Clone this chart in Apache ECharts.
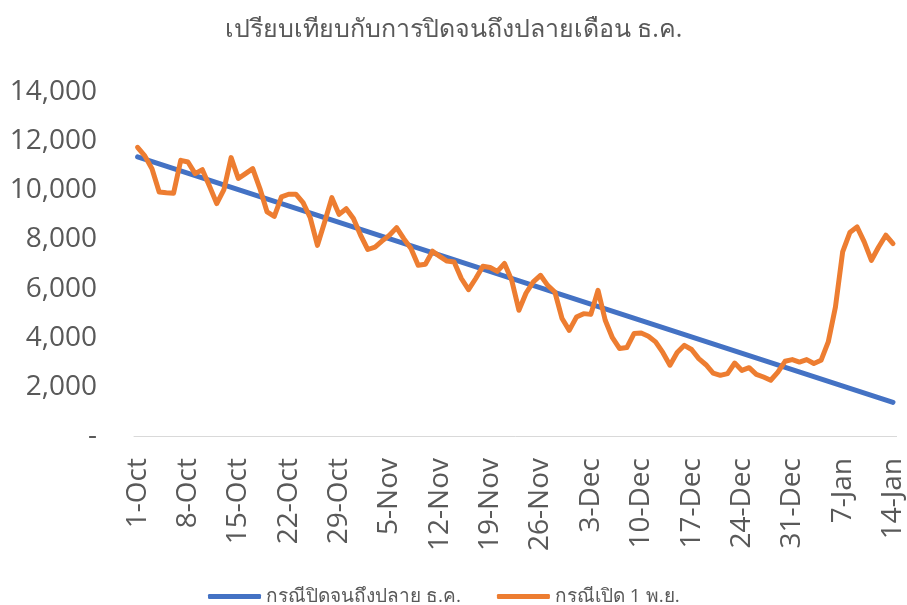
<!DOCTYPE html>
<html>
<head>
<meta charset="utf-8">
<script src="https://cdn.jsdelivr.net/npm/echarts@6/dist/echarts.min.js"></script>
<style>
  html, body { margin: 0; padding: 0; background: #fff; }
  #chart { width: 907px; height: 605px; }
</style>
</head>
<body>
<div id="chart"></div>
<script>
// month names and how many days of each are shown (1-Oct .. 14-Jan)
const monthSpans = [['Oct', 31], ['Nov', 30], ['Dec', 31], ['Jan', 14]];

// blue: straight decline if closed until end of Dec (first and last day)
const closeDays = ['1-Oct', '14-Jan'];
const closeValues = [11360, 1370];

// orange: daily values if reopened 1 Nov
const openValues = [
  11750, 11400, 10880, 9930, 9900, 9880, 11220, 11150, 10680, 10840,
  10160, 9460, 10030, 11330, 10480, 10680, 10880, 10070, 9120, 8940,
  9730, 9840, 9840, 9500, 8880, 7760, 8710, 9700, 9020, 9250,
  8850, 8170, 7590, 7690, 7940, 8170, 8480, 8030, 7630, 6950,
  6990, 7520, 7310, 7120, 7080, 6410, 5960, 6410, 6910, 6860,
  6700, 7020, 6340, 5120, 5820, 6270, 6540, 6130, 5860, 4780,
  4300, 4840, 4980, 4950, 5930, 4710, 4000, 3560, 3600, 4170,
  4190, 4060, 3830, 3400, 2880, 3400, 3690, 3520, 3150, 2900,
  2560, 2470, 2540, 2970, 2670, 2780, 2510, 2400, 2270, 2600,
  3040, 3110, 3010, 3110, 2950, 3080, 3830, 5250, 7490, 8280,
  8510, 7900, 7150, 7690, 8170, 7830
];

const titleText = 'เปรียบเทียบกับการปิดจนถึงปลายเดือน ธ.ค.';
const closeName = 'กรณีปิดจนถึงปลาย ธ.ค.';
const openName = 'กรณีเปิด 1 พ.ย.';

const days = [];
monthSpans.forEach(([m, n]) => {
  for (let d = 1; d <= n; d++) days.push(d + '-' + m);
});

const grey = '#595959';
const font = '"Open Sans", "Noto Sans", "DejaVu Sans", sans-serif';

const chart = echarts.init(document.getElementById('chart'));
chart.setOption({
  animation: false,
  backgroundColor: '#ffffff',
  title: {
    text: titleText,
    left: 'center',
    top: 12,
    textStyle: { color: grey, fontSize: 25, fontWeight: 'normal', fontFamily: font }
  },
  legend: {
    top: 582,
    left: 203,
    icon: 'roundRect',
    itemWidth: 53,
    itemHeight: 5,
    itemGap: 36,
    textStyle: { color: grey, fontSize: 19, fontFamily: font },
    data: [closeName, openName]
  },
  grid: { left: 134, right: 10, top: 92, bottom: 169 },
  xAxis: {
    type: 'category',
    data: days,
    boundaryGap: true,
    axisLine: { lineStyle: { color: '#d9d9d9', width: 1 } },
    axisTick: { interval: 6, length: 9, lineStyle: { color: '#d9d9d9' } },
    axisLabel: {
      interval: 6,
      rotate: 90,
      margin: 22,
      color: grey,
      fontSize: 28,
      fontFamily: font
    },
    splitLine: { show: false }
  },
  yAxis: {
    type: 'value',
    min: 0,
    max: 14000,
    interval: 2000,
    axisLine: { show: false },
    axisTick: { show: false },
    splitLine: { show: false },
    axisLabel: {
      margin: 37,
      color: grey,
      fontSize: 28,
      fontFamily: font,
      formatter: v => v === 0 ? '-' : v.toLocaleString('en-US')
    }
  },
  series: [
    {
      name: closeName,
      type: 'line',
      data: closeDays.map((d, i) => [days.indexOf(d), closeValues[i]]),
      symbol: 'none',
      lineStyle: { color: '#4472C4', width: 5, cap: 'round' },
      itemStyle: { color: '#4472C4' }
    },
    {
      name: openName,
      type: 'line',
      data: openValues,
      symbol: 'none',
      lineStyle: { color: '#ED7D31', width: 5, cap: 'round', join: 'round' },
      itemStyle: { color: '#ED7D31' }
    }
  ]
});
</script>
</body>
</html>
